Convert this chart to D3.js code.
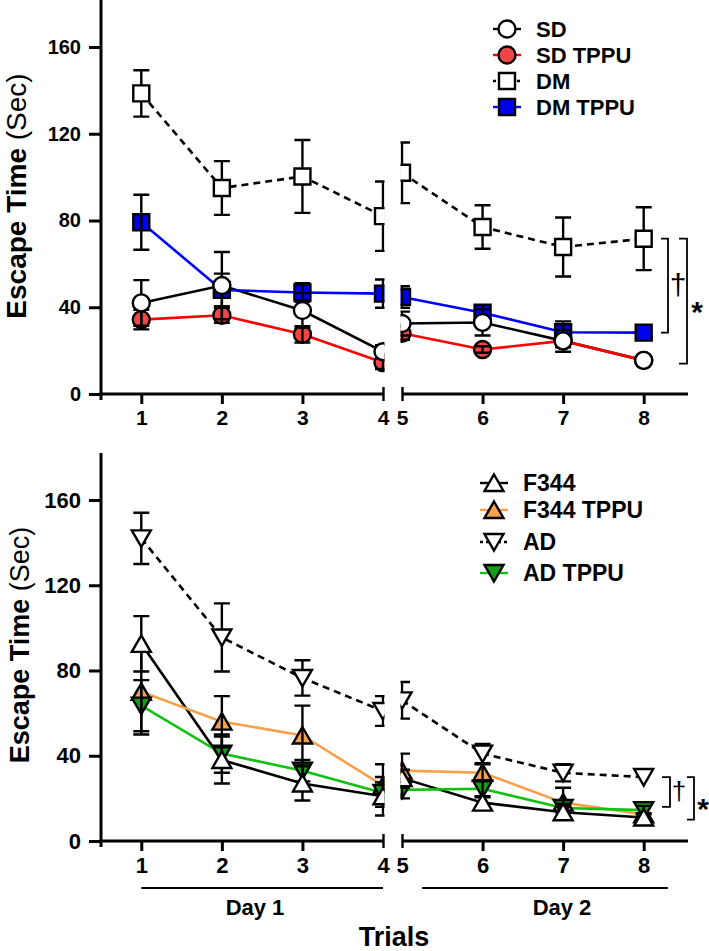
<!DOCTYPE html>
<html><head><meta charset="utf-8">
<script src="https://cdn.jsdelivr.net/npm/d3@7"></script>
<style>body{margin:0;background:#fff}svg{display:block}text{font-family:"Liberation Sans",Arial,Helvetica,sans-serif;fill:#000}</style>
</head><body><svg id="c" width="709" height="951"></svg>
<script>
// ---------- DATA ----------
const trials = [1, 2, 3, 4, 5, 6, 7, 8];
const xTickLabels = ["1", "2", "3", "4", "5", "6", "7", "8"];
const yTickValues = [0, 40, 80, 120, 160];
const dayLabels = ["Day 1", "Day 2"];
const yTitleBold = "Escape Time";
const yTitleNormal = " (Sec)";
const xTitle = "Trials";

const topNames = ["SD", "SD TPPU", "DM", "DM TPPU"];
const sdMean     = [42, 50, 38.5, 19.5, 32.5, 33, 24.5, 15.5];
const sdErr      = [10.5, 15.5, 8, 3, 5.5, 6, 5, 0];
const sdTppuMean = [34.3, 36.3, 27.5, 14.5, 28, 20.5, 24.5, 15.5];
const sdTppuErr  = [4.5, 3.5, 3.8, 3, 3, 1.5, 3, 0];
const dmMean     = [138.6, 95, 100.3, 82, 102, 77, 67.8, 71.6];
const dmErr      = [10.7, 12.4, 16.8, 16, 14, 10, 13.6, 14.5];
const dmTppuMean = [79.2, 48, 46.8, 46.3, 44.7, 37.5, 28.5, 28.3];
const dmTppuErr  = [12.7, 7.5, 4.3, 6.5, 5, 3.5, 5, 0];

const bottomNames = ["F344", "F344 TPPU", "AD", "AD TPPU"];
const f344Mean     = [92.5, 38, 27, 21, 29.5, 18, 13.5, 11];
const f344Err      = [13, 11, 8, 9, 4, 3, 3, 2];
const f344TppuMean = [70, 56, 49.5, 26, 33, 32, 18, 12.5];
const f344TppuErr  = [20, 12, 14, 10, 8, 4, 7, 0];
const adMean       = [142, 95.5, 76.5, 61, 66, 41, 32, 30];
const adErr        = [12, 16, 8.3, 7, 8.6, 4.5, 4, 0];
const adTppuMean   = [63.5, 41, 33, 22.5, 24, 24.5, 15.5, 14.5];
const adTppuErr    = [12, 9, 5, 5, 4, 4, 2, 2];

// significance brackets (value ranges at trial 8)
const topSig = [{from: 71.6, to: 28.3, mark: "†"}, {from: 71.6, to: 14, mark: "*"}];
const bottomSig = [{from: 30, to: 16, mark: "†"}, {from: 30, to: 10, mark: "*"}];

// ---------- STYLE / LAYOUT ----------
const svg = d3.select("#c");
const FONT = '"Liberation Sans",Arial,Helvetica,sans-serif';

function seriesDefs(names, means, errs, styles) {
  return names.map((n, i) => Object.assign({name: n, mean: means[i], err: errs[i]}, styles[i]));
}
const topSeries = seriesDefs(topNames,
  [sdMean, sdTppuMean, dmMean, dmTppuMean],
  [sdErr, sdTppuErr, dmErr, dmTppuErr],
  [{shape: "circle", fill: "#fff", line: "#000", dash: null, filled: false},
   {shape: "circle", fill: "#f04646", line: "#ff0000", dash: null, filled: true},
   {shape: "square", fill: "#fff", line: "#000", dash: "7,5", filled: false},
   {shape: "square", fill: "#0000ee", line: "#0000ff", dash: null, filled: true}]);
const bottomSeries = seriesDefs(bottomNames,
  [f344Mean, f344TppuMean, adMean, adTppuMean],
  [f344Err, f344TppuErr, adErr, adTppuErr],
  [{shape: "up", fill: "#fff", line: "#000", dash: null, filled: false},
   {shape: "up", fill: "#f4a04e", line: "#f8a04c", dash: null, filled: true},
   {shape: "down", fill: "#fff", line: "#000", dash: "7,5", filled: false},
   {shape: "down", fill: "#169c16", line: "#11c011", dash: null, filled: true}]);

function markerPath(shape) {
  if (shape === "circle") { const r = 8.5; return `M${-r},0A${r},${r} 0 1,0 ${r},0A${r},${r} 0 1,0 ${-r},0Z`; }
  if (shape === "square") { const s = 8; return `M${-s},${-s}H${s}V${s}H${-s}Z`; }
  if (shape === "up") return "M0,-8.5L9.5,8L-9.5,8Z";
  return "M0,8.5L9.5,-8L-9.5,-8Z";
}

function drawPanel(cfg) {
  const g = svg.append("g");
  const y = d3.scaleLinear().domain([0, 160]).range([cfg.y0, cfg.y160]);
  const segs = [
    {x: d3.scaleLinear().domain([0.5, 4]).range([101, 383]), idx: [0, 1, 2, 3], ticks: [1, 2, 3, 4], brk: 4},
    {x: d3.scaleLinear().domain([5, 8.55]).range([402, 688]), idx: [4, 5, 6, 7], ticks: [5, 6, 7, 8], brk: 5}
  ];
  segs.forEach((s, si) => {
    const id = `clip-${cfg.id}-${si}`;
    const x0 = si === 0 ? 0 : s.x(5) - 1.5;
    const x1 = si === 0 ? s.x(4) + 1.5 : 709;
    g.append("clipPath").attr("id", id).append("rect")
      .attr("x", x0).attr("y", cfg.top - 20).attr("width", x1 - x0).attr("height", cfg.y0 - cfg.top + 40);
    const pg = g.append("g").attr("clip-path", `url(#${id})`);
    cfg.series.forEach(se => {
      pg.append("path").datum(s.idx)
        .attr("d", d3.line().x(i => s.x(trials[i])).y(i => y(se.mean[i])))
        .attr("fill", "none").attr("stroke", se.line).attr("stroke-width", 2.6)
        .attr("stroke-dasharray", se.dash);
    });
    const drawMarkers = filt => cfg.series.filter(filt).forEach(se => {
      pg.selectAll(null).data(s.idx).enter().append("path")
        .attr("d", markerPath(se.shape))
        .attr("transform", i => `translate(${s.x(trials[i])},${y(se.mean[i])})`)
        .attr("fill", se.fill).attr("stroke", "#000").attr("stroke-width", 2.4);
    });
    drawMarkers(se => se.filled);
    cfg.series.forEach(se => {
      s.idx.filter(i => se.err[i] > 0).forEach(i => {
        const cx = s.x(trials[i]), yt = y(se.mean[i] + se.err[i]), yb = y(se.mean[i] - se.err[i]);
        pg.append("path")
          .attr("d", `M${cx},${yt}V${yb}M${cx - 8},${yt}H${cx + 8}M${cx - 8},${yb}H${cx + 8}`)
          .attr("fill", "none").attr("stroke", "#000").attr("stroke-width", 2.4);
      });
    });
    drawMarkers(se => !se.filled);

    // x axis segment
    const ax = g.append("g").attr("transform", `translate(0,${cfg.y0})`)
      .call(d3.axisBottom(s.x).tickValues(s.ticks).tickSize(10).tickPadding(6)
        .tickFormat(d => xTickLabels[d - 1]));
    ax.select(".domain").remove();
    ax.selectAll(".tick line").attr("stroke", "#000")
      .attr("y1", d => d === s.brk ? -7 : 0).attr("y2", d => d === s.brk ? 7 : 10)
      .attr("stroke-width", d => d === s.brk ? 2.4 : 3);
    ax.selectAll(".tick text").attr("font-family", FONT).attr("font-weight", "bold")
      .attr("font-size", cfg.xTickFont).attr("fill", "#000");
    const r = s.x.range();
    g.append("line").attr("x1", si === 0 ? 99.5 : r[0]).attr("x2", si === 0 ? s.x(4) : r[1])
      .attr("y1", cfg.y0).attr("y2", cfg.y0).attr("stroke", "#000").attr("stroke-width", 3);
  });

  // y axis
  const ay = g.append("g").attr("transform", "translate(101,0)")
    .call(d3.axisLeft(y).tickValues(yTickValues).tickSize(12).tickPadding(8));
  ay.select(".domain").remove();
  ay.selectAll(".tick line").attr("stroke", "#000").attr("stroke-width", 3);
  ay.selectAll(".tick text").attr("font-family", FONT).attr("font-weight", "bold")
    .attr("font-size", cfg.yTickFont).attr("fill", "#000");
  g.append("line").attr("x1", 101).attr("x2", 101).attr("y1", cfg.top).attr("y2", cfg.y0 + 6)
    .attr("stroke", "#000").attr("stroke-width", 3);

  // y title
  const t = g.append("text").attr("transform", `translate(${cfg.titleX},${cfg.titleY}) rotate(-90)`)
    .attr("text-anchor", "middle").attr("font-size", cfg.titleFont);
  t.append("tspan").attr("font-weight", "bold").text(yTitleBold);
  t.append("tspan").attr("font-weight", "normal").text(yTitleNormal);

  // legend
  cfg.series.forEach((se, i) => {
    const ly = cfg.legRows[i];
    g.append("line").attr("x1", cfg.legLine[0]).attr("x2", cfg.legLine[1]).attr("y1", ly).attr("y2", ly)
      .attr("stroke", se.line).attr("stroke-width", 2.4).attr("stroke-dasharray", se.dash ? "3,3" : null);
    g.append("path").attr("d", markerPath(se.shape)).attr("transform", `translate(${cfg.legMarkX},${ly})`)
      .attr("fill", se.fill).attr("stroke", "#000").attr("stroke-width", 2.4);
    g.append("text").attr("x", cfg.legTextX).attr("y", ly).attr("dy", "0.36em")
      .attr("font-size", cfg.legFont).attr("font-weight", "bold").text(se.name);
  });

  // significance brackets
  cfg.sig.forEach((b, i) => {
    const bx = cfg.sigX[i];
    const ya = y(b.from), yb = y(b.to);
    g.append("path").attr("d", `M${bx[0]},${ya}H${bx[1]}V${yb}H${bx[0]}`)
      .attr("fill", "none").attr("stroke", "#000").attr("stroke-width", 1.8);
    const star = b.mark === "*";
    g.append("text").attr("x", bx[2]).attr("y", (ya + yb) / 2).attr("dy", star ? "0.7em" : "0.3em")
      .attr("text-anchor", "middle")
      .attr("font-size", star ? cfg.starFont : cfg.dagFont).attr("font-weight", star ? "bold" : "normal")
      .text(b.mark);
  });
  return y;
}

drawPanel({id: "top", series: topSeries, y0: 394, y160: 47, top: 0,
  xTickFont: 21, yTickFont: 20, titleX: 26, titleY: 196, titleFont: 28,
  legRows: [29, 55, 81, 107], legLine: [493, 521], legMarkX: 507, legTextX: 536, legFont: 22,
  sig: topSig, sigX: [[661, 668, 678], [679, 687, 697]], dagFont: 30, starFont: 30});

drawPanel({id: "bot", series: bottomSeries, y0: 841, y160: 500, top: 453,
  xTickFont: 22, yTickFont: 22, titleX: 29, titleY: 645, titleFont: 27,
  legRows: [483, 510, 542, 573], legLine: [480, 508], legMarkX: 494, legTextX: 523, legFont: 23,
  sig: bottomSig, sigX: [[662, 670, 679], [687, 694, 703]], dagFont: 26, starFont: 30});

// Day bars and titles (bottom panel)
const xs1 = d3.scaleLinear().domain([0.5, 4]).range([101, 383]);
const xs2 = d3.scaleLinear().domain([5, 8.55]).range([402, 688]);
const dayRanges = [[xs1(1), xs1(4)], [xs2(5.25), xs2(8.3)]];
dayLabels.forEach((lab, i) => {
  const [a, b] = dayRanges[i];
  svg.append("line").attr("x1", a).attr("x2", b).attr("y1", 888).attr("y2", 888)
    .attr("stroke", "#000").attr("stroke-width", 2);
  svg.append("text").attr("x", i === 0 ? 255 : 562).attr("y", 915).attr("text-anchor", "middle")
    .attr("font-size", 22).attr("font-weight", "bold").text(lab);
});
svg.append("text").attr("x", 394).attr("y", 946).attr("text-anchor", "middle")
  .attr("font-size", 27).attr("font-weight", "bold").text(xTitle);
</script></body></html>
